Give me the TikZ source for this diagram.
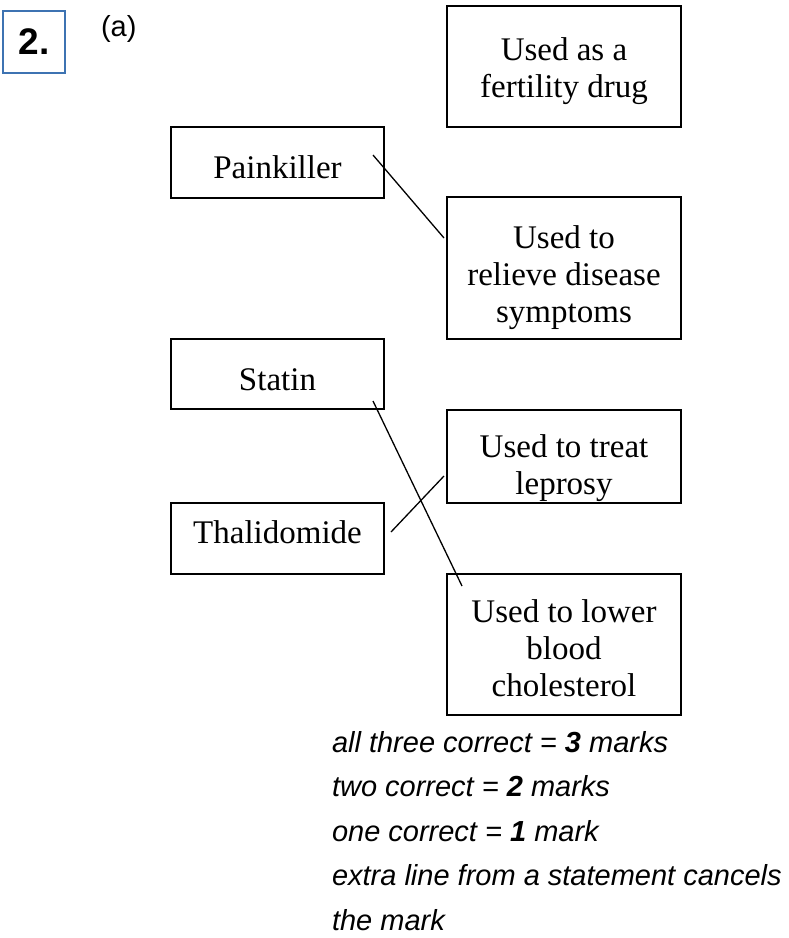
\documentclass[tikz,border=0pt]{standalone}
\usepackage{fontspec}
\setmainfont{Liberation Serif}
\newfontfamily\arialf{Liberation Sans}
\newcommand\hs[1]{\rule{0pt}{#1pt}}
\newcommand\ds[1]{\rule[-#1pt]{0pt}{#1pt}}
\definecolor{numblue}{RGB}{61,115,178}
\tikzset{
  mbox/.style={draw=black, line width=1.6pt, inner sep=0pt, outer sep=0pt, align=center,
    font=\fontsize{33}{37}\selectfont},
  lbox/.style={mbox, minimum width=213pt, minimum height=71pt},
  rbox/.style={mbox, minimum width=234pt},
  conn/.style={draw=black, line width=1.3pt},
  arialtxt/.style={font=\arialf\fontsize{29}{29}\selectfont, inner sep=0pt, outer sep=0pt}
}
\begin{document}
\begin{tikzpicture}[x=1pt,y=-1pt]
\useasboundingbox (0,0) rectangle (789,938);

\node[draw=numblue, line width=1.8pt, minimum width=62pt, minimum height=62pt, inner sep=0pt,
  font=\arialf\bfseries\fontsize{37}{37}\selectfont] (num) at (34,42) {2.};
\node[arialtxt, anchor=base west] (parta) at (101,36) {(a)};

\node[rbox, minimum height=121pt] (fert) at (564,66.5) {\hs{33}Used as a\\fertility drug};
\node[lbox] (pain) at (277.5,162.5) {\hs{33}Painkiller};
\node[rbox, minimum height=142pt] (relieve) at (564,268) {\hs{43}Used to\\relieve disease\\symptoms};
\node[lbox, minimum height=70pt] (statin) at (277.5,374) {\hs{34}Statin};
\node[rbox, minimum height=93pt] (lep) at (564,456.5) {\hs{47}Used to treat\\leprosy};
\node[lbox] (thal) at (277.5,538.5) {Thalidomide\ds{13.5}};
\node[rbox, minimum height=141pt] (chol) at (564,644.5) {\hs{31}Used to lower\\blood\\cholesterol};

\draw[conn] ([shift={(-11,-7.5)}]pain.east) -- ([shift={(-3,-30)}]relieve.west);
\draw[conn] ([shift={(-11,27)}]statin.east) -- ([shift={(15,12)}]chol.north west);
\draw[conn] ([shift={(7,-6.5)}]thal.east) -- ([shift={(-3,19.5)}]lep.west);

\node[anchor=north west, align=left, inner sep=0pt, outer sep=0pt,
  font=\arialf\itshape\fontsize{29}{44.5}\selectfont] (notes) at (332,731)
  {all three correct = \textbf{3} marks\\two correct = \textbf{2} marks\\one correct = \textbf{1} mark\\extra line from a statement cancels\\the mark};
\end{tikzpicture}
\end{document}
